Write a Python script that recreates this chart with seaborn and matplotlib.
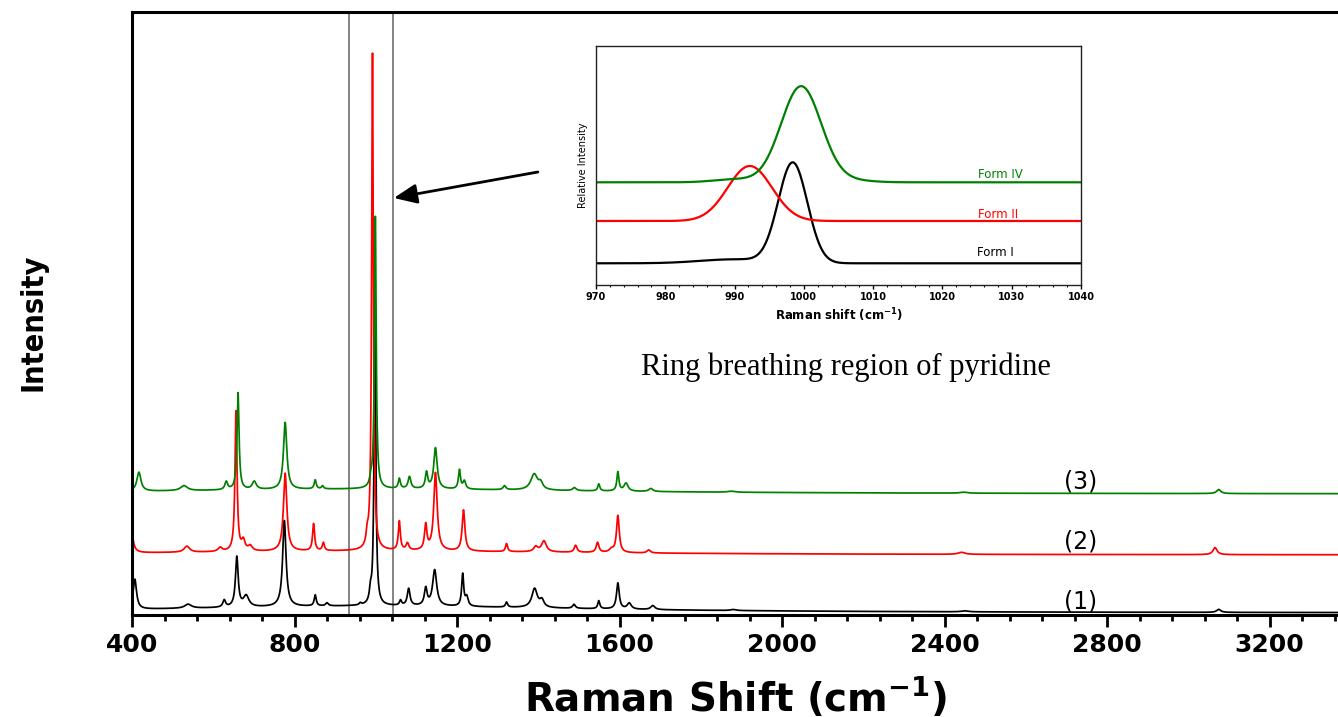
import numpy as np
import pandas as pd
import matplotlib
matplotlib.use("Agg")
import matplotlib.pyplot as plt
import seaborn as sns
from matplotlib import font_manager as fm
from matplotlib.ticker import MultipleLocator

# ---------------- data ----------------
series_labels = ["(1)", "(2)", "(3)"]
form_labels = ["Form I", "Form II", "Form IV"]
series_colors = ["#000000", "#ff0000", "#008000"]

# main spectra: peak centres (cm-1), heights (a.u.), half widths (cm-1)
black_pos = [407, 538, 627, 658, 681, 775, 851, 880, 962, 987, 998, 1061, 1081, 1123, 1145,
             1214, 1224, 1322, 1391, 1409, 1488, 1549, 1596, 1624, 1682, 1880, 2450, 3075]
black_height = [30, 4, 7, 50, 11, 86, 11, 3, 2, 11, 300, 5, 17, 17, 36,
                32, 9, 5, 19, 7, 4, 8, 26, 6, 4, 1, 1, 3]
black_width = [5, 10, 4, 4, 8, 5, 3, 4, 3, 3, 2.5, 3, 4, 4, 6,
               3, 4, 3, 8, 6, 4, 3, 4, 6, 6, 8, 10, 6]
black_offset = 2
black_background = 7

red_pos = [398, 535, 617, 656, 674, 691, 777, 847, 871, 979, 992, 1058, 1078, 1123, 1147,
           1216, 1322, 1394, 1414, 1492, 1546, 1580, 1596, 1672, 2442, 3066]
red_height = [26, 6, 4, 140, 10, 5, 78, 27, 8, 11, 497, 29, 7, 25, 78,
              41, 8, 5, 11, 7, 10, 3, 37, 3, 2, 7]
red_width = [5, 8, 6, 3, 5, 6, 5, 3, 3, 3, 2.5, 3, 4, 3.5, 5,
             4, 3, 6, 7, 4, 4, 6, 4, 5, 10, 6]
red_offset = 60
red_background = 4

green_pos = [417, 528, 632, 661, 701, 777, 851, 869, 988, 999, 1058, 1083, 1125, 1147,
             1206, 1218, 1317, 1390, 1406, 1489, 1549, 1596, 1616, 1677, 1875, 2447, 3075]
green_height = [19, 5, 8, 97, 8, 67, 9, 3, 7, 272, 10, 12, 16, 41,
                19, 8, 4, 16, 6, 3, 7, 19, 8, 3, 1, 1, 4]
green_width = [6, 10, 4, 3, 6, 5, 3, 3, 3, 2.5, 3, 4, 3.5, 5,
               3, 4, 4, 10, 6, 5, 3, 3, 6, 6, 10, 10, 6]
green_offset = 121
green_background = 5

# inset (ring breathing region): Gaussian components
inset_black_pos = [998.4, 990.0]
inset_black_height = [100, 4]
inset_black_sigma = [2.1, 5.0]
inset_black_base = 21.7

inset_red_pos = [992.2]
inset_red_height = [55]
inset_red_sigma = [3.2]
inset_red_base = 64

inset_green_pos = [999.6, 990.0, 1006.5]
inset_green_height = [96, 3, 2]
inset_green_sigma = [2.9, 3.0, 3.0]
inset_green_base = 102.7

inset_label_x = [1027.6, 1028.1, 1028.4]
inset_label_y = [32, 71, 111]

series_label_x = 2735
series_label_y = [13, 74, 133]

box_lines = [934, 1042.5]


# ---------------- build curves ----------------
def lorentz_sum(x, pos, height, width):
    y = np.zeros_like(x)
    for p, h, w in zip(pos, height, width):
        y += h / (1.0 + ((x - p) / w) ** 2)
    return y


def gauss_sum(x, pos, height, sigma):
    y = np.zeros_like(x)
    for p, h, s in zip(pos, height, sigma):
        y += h * np.exp(-0.5 * ((x - p) / s) ** 2)
    return y


x_main = np.arange(400.0, 3400.0, 0.5)


def spectrum(pos, height, width, offset, bg):
    return offset + lorentz_sum(x_main, pos, height, width) + \
        lorentz_sum(x_main, [1000], [bg], [650])


main_df = pd.concat([
    pd.DataFrame({"shift": x_main, "intensity": spectrum(black_pos, black_height, black_width,
                                                         black_offset, black_background),
                  "series": series_labels[0]}),
    pd.DataFrame({"shift": x_main, "intensity": spectrum(red_pos, red_height, red_width,
                                                         red_offset, red_background),
                  "series": series_labels[1]}),
    pd.DataFrame({"shift": x_main, "intensity": spectrum(green_pos, green_height, green_width,
                                                         green_offset, green_background),
                  "series": series_labels[2]}),
], ignore_index=True)

x_in = np.arange(970.0, 1040.01, 0.1)
inset_df = pd.concat([
    pd.DataFrame({"shift": x_in, "intensity": inset_black_base + gauss_sum(x_in, inset_black_pos, inset_black_height, inset_black_sigma), "form": form_labels[0]}),
    pd.DataFrame({"shift": x_in, "intensity": inset_red_base + gauss_sum(x_in, inset_red_pos, inset_red_height, inset_red_sigma), "form": form_labels[1]}),
    pd.DataFrame({"shift": x_in, "intensity": inset_green_base + gauss_sum(x_in, inset_green_pos, inset_green_height, inset_green_sigma), "form": form_labels[2]}),
], ignore_index=True)

# ---------------- style ----------------
sns.set_style("white")
plt.rcParams["font.family"] = ["DejaVu Sans"]
for key in ["text.color", "axes.labelcolor", "xtick.color", "ytick.color", "axes.edgecolor"]:
    plt.rcParams[key] = "black"

# a narrow bold face for the y label, if one is installed
narrow_prop = None
for f in fm.fontManager.ttflist:
    low = (f.name + " " + f.fname).lower()
    if ("narrow" in low or "condensed" in low) and str(f.weight) in ("bold", "700", "semibold", "600") \
            and "italic" not in low and "oblique" not in low:
        narrow_prop = fm.FontProperties(fname=f.fname, size=22)
        break
if narrow_prop is None:
    narrow_prop = fm.FontProperties(family=["Roboto", "DejaVu Sans"], weight="bold", size=21)

names = {f.name for f in fm.fontManager.ttflist}
serif_family = "Liberation Serif" if "Liberation Serif" in names else "DejaVu Serif"

W, H = 1338, 717
fig = plt.figure(figsize=(W / 100, H / 100), dpi=100)
fig.patch.set_facecolor("white")

left_px, top_px, bottom_px = 132, 12, 615
ax = fig.add_axes([left_px / W, 1 - bottom_px / H, 1 - left_px / W, (bottom_px - top_px) / H])

sns.lineplot(data=main_df, x="shift", y="intensity", hue="series",
             palette=dict(zip(series_labels, series_colors)), hue_order=series_labels,
             linewidth=1.25, legend=False, ax=ax, sort=False, estimator=None)

x_max = 400 + (W - left_px) / 162.5 * 400
ax.set_xlim(400, x_max)
ax.set_ylim(0, bottom_px - top_px)
ax.set_xticks([400, 800, 1200, 1600, 2000, 2400, 2800, 3200])
ax.xaxis.set_minor_locator(MultipleLocator(80))
ax.set_yticks([])
ax.tick_params(axis="x", which="major", direction="out", length=8.6, width=2, labelsize=18, pad=4,
               bottom=True, colors="black")
ax.tick_params(axis="x", which="minor", direction="out", length=4.3, width=2, bottom=True,
               colors="black")
for lbl in ax.get_xticklabels():
    lbl.set_fontweight("bold")
    lbl.set_color("black")
for s in ["left", "top", "bottom"]:
    ax.spines[s].set_linewidth(2.2)
    ax.spines[s].set_color("black")
ax.spines["right"].set_visible(False)
ax.set_xlabel("")
ax.set_ylabel("")

for xv in box_lines:
    ax.axvline(xv, color="#6e6e6e", linewidth=1.2, zorder=1)

for lab, yv in zip(series_labels, series_label_y):
    ax.text(series_label_x, yv, lab, fontsize=17, ha="center", va="center", color="black")

ax.annotate("", xy=(box_lines[1] + 2, 417), xytext=(1399, 443),
            arrowprops=dict(arrowstyle="-|>,head_length=0.7,head_width=0.3", color="black",
                            lw=2, mutation_scale=20, shrinkA=0, shrinkB=0))

fig.text(736 / W, 1 - 697 / H, r"Raman Shift (cm$^{\mathbf{-1}}$)", fontsize=28, fontweight="bold",
         ha="center", va="center", color="black")
fig.text(33 / W, 1 - 322 / H, "Intensity", rotation=90, fontproperties=narrow_prop,
         ha="center", va="center", color="black")
fig.text(846 / W, 1 - 367 / H, "Ring breathing region of pyridine", fontsize=22,
         ha="center", va="center", family=[serif_family], color="black")

# ---------------- inset ----------------
in_l, in_r, in_t, in_b = 596, 1081, 46, 285
axi = fig.add_axes([in_l / W, 1 - in_b / H, (in_r - in_l) / W, (in_b - in_t) / H])
axi.set_facecolor("white")
sns.lineplot(data=inset_df, x="shift", y="intensity", hue="form",
             palette=dict(zip(form_labels, series_colors)), hue_order=form_labels,
             linewidth=1.6, legend=False, ax=axi, sort=False, estimator=None)
axi.set_xlim(970, 1040)
axi.set_ylim(0, in_b - in_t)
axi.set_xticks(np.arange(970, 1041, 10))
axi.xaxis.set_minor_locator(MultipleLocator(2))
axi.set_yticks([])
axi.tick_params(axis="x", which="major", direction="out", length=3, width=1, labelsize=7, pad=2,
                bottom=True, colors="black")
axi.tick_params(axis="x", which="minor", direction="out", length=1.5, width=0.8, bottom=True,
                colors="black")
for lbl in axi.get_xticklabels():
    lbl.set_fontweight("bold")
for s in axi.spines.values():
    s.set_linewidth(1.0)
    s.set_color("#222222")
axi.set_xlabel(r"Raman shift (cm$^{\mathbf{-1}}$)", fontsize=8.5, fontweight="bold", labelpad=3,
               color="black")
axi.set_ylabel("Relative Intensity", fontsize=7, labelpad=6, color="black")
for lab, xv, yv, c in zip(form_labels, inset_label_x, inset_label_y, series_colors):
    axi.text(xv, yv, lab, fontsize=8.5, color=c, ha="center", va="center")

fig.savefig("out.png", dpi=100, facecolor="white")
